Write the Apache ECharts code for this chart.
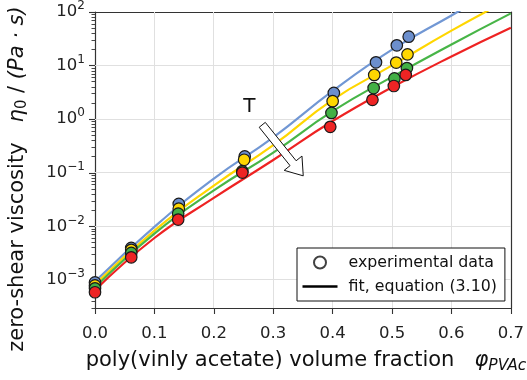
<!DOCTYPE html>
<html><head><meta charset="utf-8">
<script src="https://cdn.jsdelivr.net/npm/echarts@6/dist/echarts.min.js"></script>
<style>html,body{margin:0;padding:0;background:#fff}#c{width:527px;height:380px}</style>
</head><body><div id="c"></div>
<script>
// ---- data (viscosity in Pa·s) ----
const phiBlue   = [0, 0.061, 0.141, 0.252, 0.402, 0.473, 0.508, 0.528];
const phiYellow = [0, 0.061, 0.141, 0.251, 0.400, 0.470, 0.507, 0.526];
const phiGreen  = [0, 0.061, 0.140, 0.248, 0.398, 0.469, 0.504, 0.525];
const phiRed    = [0, 0.061, 0.140, 0.248, 0.396, 0.467, 0.503, 0.523];
const etaBlue   = [9.0e-4, 3.97e-3, 0.0262, 0.202, 3.09, 11.5, 23.9, 34.6];
const etaYellow = [7.9e-4, 3.65e-3, 0.0214, 0.175, 2.17, 6.7, 11.4, 16.2];
const etaGreen  = [7.0e-4, 3.2e-3, 0.0173, 0.107, 1.31, 3.82, 5.77, 9.0];
const etaRed    = [5.9e-4, 2.65e-3, 0.0134, 0.101, 0.72, 2.30, 4.16, 6.7];
const fitPhi    = [0, 0.1, 0.2, 0.3, 0.4, 0.5, 0.6, 0.7];
const fitBlue   = [9.4e-4, 9.8e-3, 0.0778, 0.458, 3.37, 19.9, 86.3, 372];
const fitYellow = [8.26e-4, 8.34e-3, 0.0578, 0.327, 2.30, 10.1, 44.9, 178];
const fitGreen  = [7.28e-4, 7.35e-3, 0.0468, 0.238, 1.41, 6.17, 24.8, 94.2];
const fitRed    = [6.41e-4, 6.07e-3, 0.0340, 0.173, 0.923, 3.94, 14.8, 50.7];
const xTicks    = [0, 0.1, 0.2, 0.3, 0.4, 0.5, 0.6, 0.7];
const yDecades  = [-3, -2, -1, 0, 1, 2];
const legendNames = ['experimental data', 'fit, equation (3.10)'];
// annotation: arrow tail (phi, eta), arrow tip (phi, eta), "T" label (phi, eta)
const arrowTail = [0.2815, 0.785];
const arrowTip  = [0.3505, 0.0877];
const tLabel    = [0.260, 1.67];

const FONT = 'DejaVu Sans';
const L = v => Math.log10(v);
const yMin = L(3e-4), yMax = L(100);
const minorTicks = [];
for (let e = -4; e < 2; e++) for (let k = 2; k < 10; k++) {
  const v = L(k) + e; if (v >= yMin - 1e-9 && v <= yMax) minorTicks.push(v);
}
const C = {
  blue:   {line: '#7197d4', fill: '#6c8fcd'},
  yellow: {line: '#ffd600', fill: '#ffd700'},
  green:  {line: '#47b547', fill: '#42b045'},
  red:    {line: '#ee2222', fill: '#ee2424'}
};
const AX = '#333';
const GRIDC = '#e0e0e0';

function fitSeries(vals, c) {
  return {type: 'line', data: fitPhi.map((x, i) => [x, L(vals[i])]), smooth: true,
    symbol: 'none', lineStyle: {color: c.line, width: 2.2}, z: 2, silent: true};
}
function dataSeries(xs, vals, c) {
  return {type: 'scatter', data: xs.map((x, i) => [x, L(vals[i])]), symbol: 'circle',
    symbolSize: 11.5, itemStyle: {color: c.fill, borderColor: '#1a1a1a', borderWidth: 1.2, opacity: 1}, z: 3};
}
const frameAxis = (pos) => ({
  type: 'value', position: pos, min: pos === 'top' ? 0 : yMin, max: pos === 'top' ? 0.7 : yMax,
  axisLine: {show: true, onZero: false, lineStyle: {color: AX, width: 1.2}},
  axisTick: {show: false}, axisLabel: {show: false}, splitLine: {show: false}
});

// grid lines at the major ticks, placed through the axes' own scales
function renderGrid(params, api) {
  const cs = params.coordSys;
  const crisp = p => Math.floor(p) + 0.5;
  const children = [];
  xTicks.forEach(x => {
    if (x <= 0 || x >= 0.7) return;
    const px = crisp(api.coord([x, yMin])[0]);
    children.push({type: 'line', shape: {x1: px, y1: cs.y, x2: px, y2: cs.y + cs.height},
      style: {stroke: GRIDC, lineWidth: 1}});
  });
  yDecades.forEach(d => {
    if (d <= yMin || d >= yMax) return;
    const py = crisp(api.coord([0, d])[1]);
    children.push({type: 'line', shape: {x1: cs.x, y1: py, x2: cs.x + cs.width, y2: py},
      style: {stroke: GRIDC, lineWidth: 1}});
  });
  return {type: 'group', children};
}

function renderArrow(params, api) {
  const a = api.coord([api.value(0), api.value(1)]);
  const b = api.coord([api.value(2), api.value(3)]);
  const t = api.coord([api.value(4), api.value(5)]);
  const dx = b[0] - a[0], dy = b[1] - a[1], len = Math.hypot(dx, dy);
  const ux = dx / len, uy = dy / len, px = -uy, py = ux;
  const hw = 3.9, hl = 16.2, hh = 11.4;
  const mx = b[0] - ux * hl, my = b[1] - uy * hl;
  const pts = [
    [a[0] + px * hw, a[1] + py * hw], [mx + px * hw, my + py * hw], [mx + px * hh, my + py * hh],
    [b[0], b[1]],
    [mx - px * hh, my - py * hh], [mx - px * hw, my - py * hw], [a[0] - px * hw, a[1] - py * hw]
  ];
  return {type: 'group', children: [
    {type: 'polygon', shape: {points: pts}, style: {fill: '#fff', stroke: '#111', lineWidth: 1}},
    {type: 'text', x: t[0], y: t[1], style: {text: 'T', fontSize: 20, fontFamily: FONT, fill: '#111', align: 'center', verticalAlign: 'middle'}}
  ]};
}

const chart = echarts.init(document.getElementById('c'), null, {renderer: 'canvas'});
const option = {
  animation: false,
  textStyle: {fontFamily: FONT},
  grid: {left: 95, right: 13, top: 9, bottom: 72},
  xAxis: [{
    type: 'value', min: 0, max: 0.7, interval: 0.1, position: 'bottom',
    axisLine: {show: true, onZero: false, lineStyle: {color: AX, width: 1.2}},
    axisTick: {show: true, length: 6, lineStyle: {color: AX, width: 1.1}},
    axisLabel: {margin: 17, fontSize: 16.5, color: '#222', fontFamily: FONT,
      formatter: v => v.toFixed(1)},
    splitLine: {show: false}
  }, frameAxis('top')],
  yAxis: [{
    type: 'value', min: yMin, max: yMax, position: 'left',
    axisLine: {show: true, onZero: false, lineStyle: {color: AX, width: 1.2}},
    axisTick: {show: true, length: 6, customValues: yDecades, lineStyle: {color: AX, width: 1.1}},
    axisLabel: {customValues: yDecades, margin: 10, color: '#222', fontFamily: FONT,
      formatter: v => { const e = Math.round(v); return '{b|10}{s|' + (e < 0 ? '\u2212' + (-e) : e) + '}'; },
      rich: {b: {fontSize: 16.5, fontFamily: FONT, color: '#222'},
             s: {fontSize: 12, fontFamily: FONT, color: '#222', padding: [0, 0, 12, 0]}}},
    splitLine: {show: false}
  }, {
    type: 'value', min: yMin, max: yMax, position: 'left',
    axisLine: {show: false, onZero: false}, axisLabel: {show: false}, splitLine: {show: false},
    axisTick: {show: true, length: 3.5, customValues: minorTicks, lineStyle: {color: AX, width: 0.9}}
  }, frameAxis('right')],
  legend: {
    data: [{name: legendNames[0], icon: 'circle'},
           {name: legendNames[1], icon: 'path://M0,0H35V2.6H0Z'}],
    orient: 'vertical', left: 297, top: 248,
    itemWidth: 35, itemHeight: 12, itemGap: 7,
    padding: [6, 8, 6, 5.5],
    borderColor: '#111', borderWidth: 1, borderRadius: 0, backgroundColor: '#fff',
    textStyle: {fontSize: 15.8, fontFamily: FONT, color: '#111', lineHeight: 17, padding: [0, 0, 0, 6]},
    selectedMode: false
  },
  graphic: [
    {type: 'text', x: 18, y: 179, rotation: Math.PI / 2,
     style: {text: 'zero-shear viscosity   {i|\u03b7}{sub|0} / {i|(Pa \u00b7 s)}', fontSize: 21, fontFamily: FONT, fill: '#111',
       align: 'center', verticalAlign: 'middle',
       rich: {i: {fontSize: 21, fontStyle: 'italic', fontFamily: FONT, fill: '#111'},
              sub: {fontSize: 15, fontFamily: FONT, fill: '#111', padding: [9, 0, 0, 0]}}}, z: 10},
    {type: 'text', x: 306, y: 361,
     style: {text: 'poly(vinly acetate) volume fraction   {i|\u03c6}{sub|PVAc}', fontSize: 21, fontFamily: FONT, fill: '#111',
       align: 'center', verticalAlign: 'middle',
       rich: {i: {fontSize: 21, fontStyle: 'italic', fontFamily: FONT, fill: '#111'},
              sub: {fontSize: 15.5, fontStyle: 'italic', fontFamily: FONT, fill: '#111', padding: [9, 0, 0, 0]}}}, z: 10}
  ],
  series: [
    {type: 'custom', renderItem: renderGrid, silent: true, z: 1, clip: false,
     encode: {x: 0, y: 1}, data: [[0.35, 0]]},
    fitSeries(fitBlue, C.blue), fitSeries(fitYellow, C.yellow), fitSeries(fitGreen, C.green), fitSeries(fitRed, C.red),
    dataSeries(phiBlue, etaBlue, C.blue), dataSeries(phiYellow, etaYellow, C.yellow),
    dataSeries(phiGreen, etaGreen, C.green), dataSeries(phiRed, etaRed, C.red),
    {name: legendNames[0], type: 'scatter', data: [], symbol: 'circle',
     itemStyle: {color: '#fff', borderColor: '#111', borderWidth: 1.3}},
    {name: legendNames[1], type: 'line', data: [], symbol: 'none', showSymbol: false,
     lineStyle: {color: '#000', width: 2.6}, itemStyle: {color: '#000', borderWidth: 0}},
    {type: 'custom', renderItem: renderArrow, silent: true, z: 10, clip: false,
     encode: {x: [0, 2, 4], y: [1, 3, 5]},
     data: [[arrowTail[0], L(arrowTail[1]), arrowTip[0], L(arrowTip[1]), tLabel[0], L(tLabel[1])]]}
  ]
};
chart.setOption(option);
</script></body></html>
